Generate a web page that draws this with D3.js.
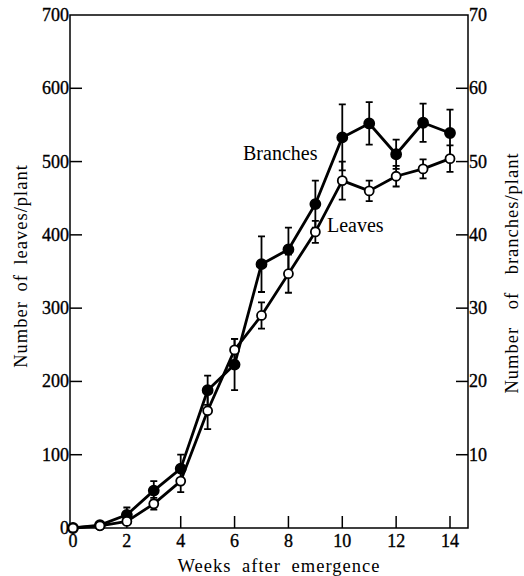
<!DOCTYPE html>
<html>
<head>
<meta charset="utf-8">
<script src="https://cdn.jsdelivr.net/npm/d3@7"></script>
<style>
  body { margin: 0; background: #fff; }
  svg text { font-family: "Liberation Serif", "DejaVu Serif", serif; fill: #000; }
  .tick-label { font-size: 18px; stroke: #000; stroke-width: 0.35px; }
  .title { font-size: 18.5px; letter-spacing: 1px; }
</style>
</head>
<body>
<script>
(function () {

var width = 524;
var height = 576;

// data
var weeks = [0, 1, 2, 3, 4, 5, 6, 7, 8, 9, 10, 11, 12, 13, 14];
var leaves = [0, 3, 9, 33, 64, 160, 243, 290, 347, 404, 474, 460, 480, 490, 504];
var leavesErr = [0, 0, 4, 8, 15, 25, 15, 18, 26, 15, 26, 14, 14, 13, 18];
var branches = [0, 0.4, 1.8, 5.1, 8.1, 18.8, 22.3, 36, 38, 44.2, 53.3, 55.2, 51, 55.3, 53.9];
var branchesErr = [0, 0, 1, 1.3, 1.9, 2, 3.5, 3.8, 3, 3.2, 4.5, 2.9, 2, 2.6, 3.2];

var xTicks = [0, 2, 4, 6, 8, 10, 12, 14];
var leafTicks = [0, 100, 200, 300, 400, 500, 600, 700];
var branchTicks = [10, 20, 30, 40, 50, 60, 70];

var margin = { top: 15, bottom: 48, left: 70, right: 56 };

var svg = d3.select("body")
  .append("svg")
    .attr("width", width)
    .attr("height", height);

var x = d3.scaleLinear().domain([0, 14]).range([73, 450]);
var xAxisEnd = width - margin.right;
var yL = d3.scaleLinear().domain([0, 700]).range([height - margin.bottom, margin.top]);
var yR = d3.scaleLinear().domain([0, 70]).range([height - margin.bottom, margin.top]);

var axisTop = margin.top;
var axisBottom = height - margin.bottom;

// frame: left, right, bottom, top
svg.append("path")
  .attr("d", "M" + margin.left + "," + axisTop + "V" + axisBottom + "H" + xAxisEnd + "V" + axisTop + "Z")
  .attr("fill", "none")
  .attr("stroke", "#000")
  .attr("stroke-width", 1.5);

// x ticks (pointing up)
svg.selectAll(".xtick")
  .data(xTicks.filter(function (d) { return d > 0; }))
  .enter()
  .append("line")
  .attr("x1", function (d) { return x(d); })
  .attr("x2", function (d) { return x(d); })
  .attr("y1", axisBottom)
  .attr("y2", axisBottom - 12)
  .attr("stroke", "#000")
  .attr("stroke-width", 1.5);

svg.selectAll(".xlab")
  .data(xTicks)
  .enter()
  .append("text")
  .attr("class", "tick-label")
  .attr("x", function (d) { return x(d); })
  .attr("y", axisBottom + 19)
  .attr("text-anchor", "middle")
  .text(function (d) { return d; });

// left ticks (pointing in)
svg.selectAll(".ltick")
  .data(leafTicks.filter(function (d) { return d > 0 && d < 700; }))
  .enter()
  .append("line")
  .attr("x1", margin.left)
  .attr("x2", margin.left + 12)
  .attr("y1", function (d) { return yL(d); })
  .attr("y2", function (d) { return yL(d); })
  .attr("stroke", "#000")
  .attr("stroke-width", 1.5);

svg.selectAll(".llab")
  .data(leafTicks)
  .enter()
  .append("text")
  .attr("class", "tick-label")
  .attr("x", margin.left - 1)
  .attr("y", function (d) { return yL(d) + 6; })
  .attr("text-anchor", "end")
  .text(function (d) { return d; });

// right ticks (pointing in)
svg.selectAll(".rtick")
  .data(branchTicks.filter(function (d) { return d < 70; }))
  .enter()
  .append("line")
  .attr("x1", xAxisEnd)
  .attr("x2", xAxisEnd - 12)
  .attr("y1", function (d) { return yR(d); })
  .attr("y2", function (d) { return yR(d); })
  .attr("stroke", "#000")
  .attr("stroke-width", 1.5);

svg.selectAll(".rlab")
  .data(branchTicks)
  .enter()
  .append("text")
  .attr("class", "tick-label")
  .attr("x", xAxisEnd + 1)
  .attr("y", function (d) { return yR(d) + 6; })
  .attr("text-anchor", "start")
  .text(function (d) { return d; });

// axis titles
svg.append("text")
  .attr("class", "title")
  .attr("x", 279)
  .attr("y", 572)
  .attr("text-anchor", "middle")
  .style("word-spacing", "5px")
  .text("Weeks after emergence");

svg.append("text")
  .attr("class", "title")
  .attr("transform", "translate(27," + 266 + ") rotate(-90)")
  .attr("text-anchor", "middle")
  .style("word-spacing", "4px")
  .text("Number of leaves/plant");

svg.append("text")
  .attr("class", "title")
  .attr("transform", "translate(518," + 273 + ") rotate(-90)")
  .attr("text-anchor", "middle")
  .style("word-spacing", "12px")
  .text("Number of branches/plant");

// series
var leafData = weeks.map(function (w, i) { return { x: w, y: leaves[i], e: leavesErr[i] }; });
var branchData = weeks.map(function (w, i) { return { x: w, y: branches[i], e: branchesErr[i] }; });

function drawSeries(data, yScale, filled) {
  var line = d3.line()
    .x(function (d) { return x(d.x); })
    .y(function (d) { return yScale(d.y); });

  svg.append("path")
    .datum(data)
    .attr("d", line)
    .attr("fill", "none")
    .attr("stroke", "#000")
    .attr("stroke-width", 2.8)
    .attr("stroke-linejoin", "round");

  var bars = data.filter(function (d) { return d.e > 0; });
  svg.selectAll(null)
    .data(bars)
    .enter()
    .append("path")
    .attr("d", function (d) {
      var cx = x(d.x), t = yScale(d.y + d.e), b = yScale(d.y - d.e);
      return "M" + cx + "," + t + "V" + b +
        "M" + (cx - 3.5) + "," + t + "H" + (cx + 3.5) +
        "M" + (cx - 3.5) + "," + b + "H" + (cx + 3.5);
    })
    .attr("fill", "none")
    .attr("stroke", "#000")
    .attr("stroke-width", 1.8);

  svg.selectAll(null)
    .data(data)
    .enter()
    .append("circle")
    .attr("cx", function (d) { return x(d.x); })
    .attr("cy", function (d) { return yScale(d.y); })
    .attr("r", filled ? 5 : 4.5)
    .attr("fill", filled ? "#000" : "#fff")
    .attr("stroke", "#000")
    .attr("stroke-width", 1.8);
}

drawSeries(branchData, yR, true);
drawSeries(leafData, yL, false);

// series labels
svg.append("text")
  .attr("x", 243)
  .attr("y", 160)
  .style("font-size", "20px")
  .text("Branches");

svg.append("text")
  .attr("x", 327)
  .attr("y", 232)
  .style("font-size", "20px")
  .text("Leaves");

}());
</script>
</body>
</html>
